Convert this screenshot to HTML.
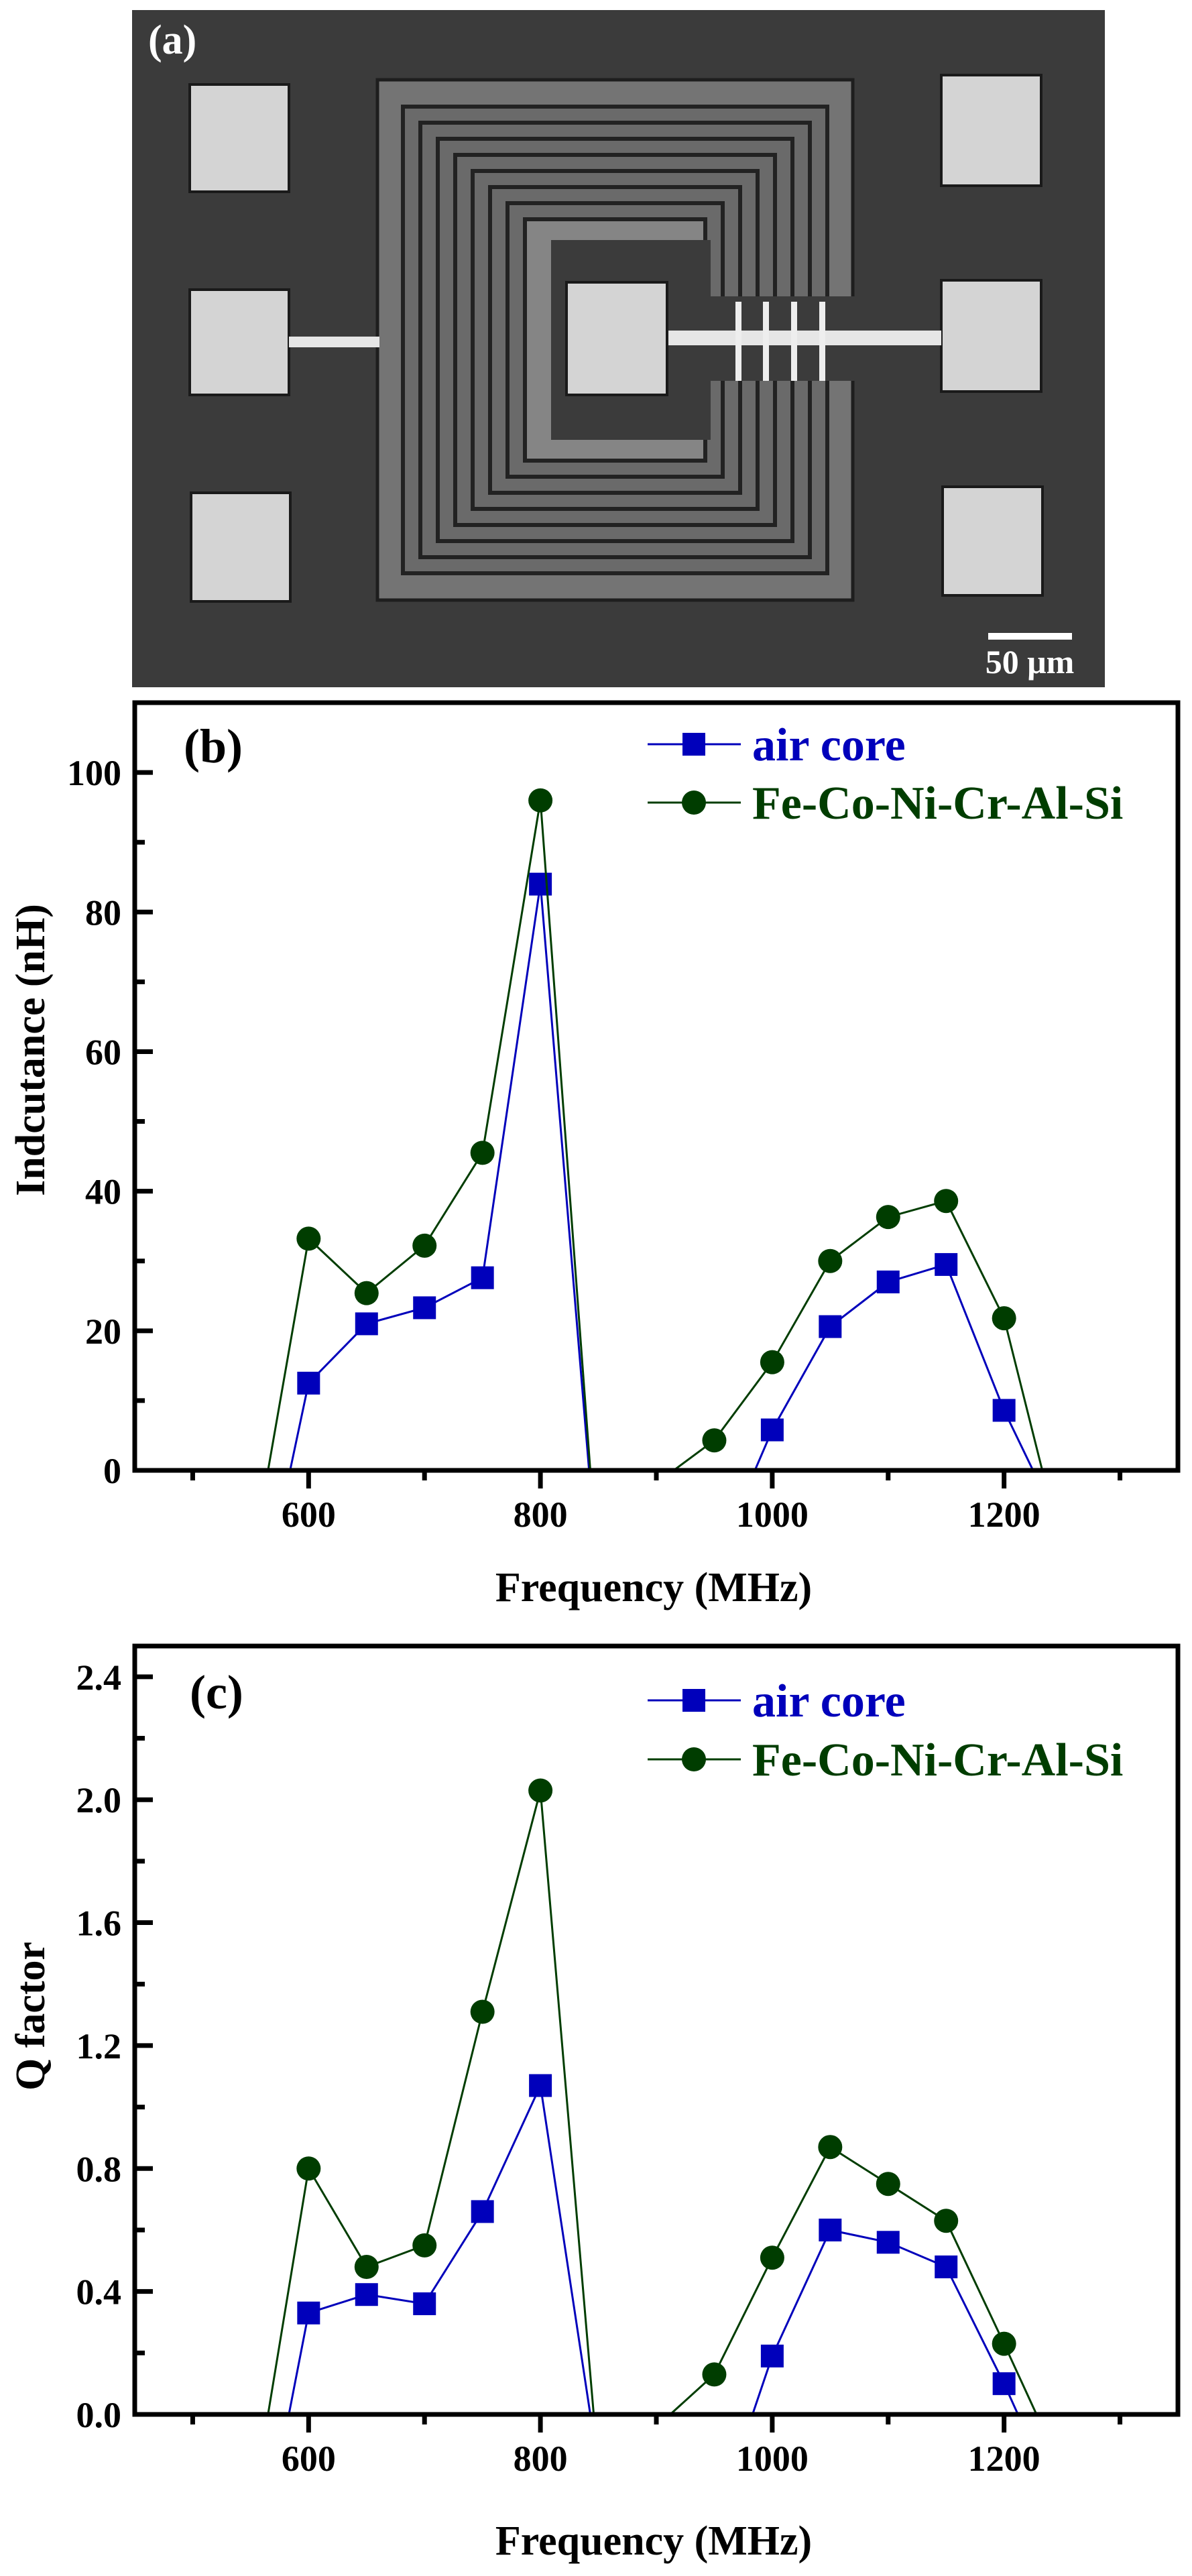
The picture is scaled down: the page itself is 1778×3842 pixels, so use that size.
<!DOCTYPE html>
<html><head><meta charset="utf-8">
<style>
html,body{margin:0;padding:0;background:#fff;}
svg{display:block;}
text{font-family:"Liberation Serif",serif;font-weight:bold;}
</style></head>
<body>
<svg id="fig" width="1778" height="3842" viewBox="0 0 1778 3842" xmlns="http://www.w3.org/2000/svg">
  <g id="photo">
    <rect x="197" y="15" width="1451" height="1010" fill="#3b3b3b"/>
    <g id="spiral"></g>
    <g>
      <rect x="283" y="126" width="148" height="160" fill="#d4d4d4" stroke="#1a1a1a" stroke-width="4"/>
      <rect x="283" y="432" width="148" height="157" fill="#d4d4d4" stroke="#1a1a1a" stroke-width="4"/>
      <rect x="285" y="735" width="148" height="162" fill="#d4d4d4" stroke="#1a1a1a" stroke-width="4"/>
      <rect x="1404" y="112" width="149" height="165" fill="#d4d4d4" stroke="#1a1a1a" stroke-width="4"/>
      <rect x="1404" y="418" width="149" height="166" fill="#d4d4d4" stroke="#1a1a1a" stroke-width="4"/>
      <rect x="1406" y="726" width="149" height="162" fill="#d4d4d4" stroke="#1a1a1a" stroke-width="4"/>
    </g>
    <rect x="431" y="502" width="135" height="16" fill="#e6e6e6"/>
    <rect x="995" y="493" width="409" height="22" fill="#e6e6e6"/>
    <g>
      <rect x="1097" y="450" width="9" height="118" fill="#eeeeee"/>
      <rect x="1138" y="450" width="9" height="118" fill="#eeeeee"/>
      <rect x="1180" y="450" width="9" height="118" fill="#eeeeee"/>
      <rect x="1222" y="450" width="9" height="118" fill="#eeeeee"/>
    </g>
    <rect x="845" y="421" width="150" height="168" fill="#d4d4d4" stroke="#1a1a1a" stroke-width="4"/>
    <text x="221" y="80" font-size="62" fill="#ffffff">(a)</text>
    <rect x="1474" y="944" width="125" height="10" fill="#ffffff"/>
    <text x="1536" y="1004" font-size="50" fill="#ffffff" text-anchor="middle">50 μm</text>
  </g>
  <g id="chartB"></g>
  <g id="chartC"></g>
</svg>
<script>
// ---- Panel (b) data: inductance (nH) ----
const bAirFreq = [584, 600, 650, 700, 750, 800, 842];
const bAirVal  = [0, 12.5, 21, 23.3, 27.6, 84, 0];
const bAirFreq2 = [985, 1000, 1050, 1100, 1150, 1200, 1225];
const bAirVal2  = [0, 5.8, 20.6, 27, 29.5, 8.6, 0];
const bFeFreq = [565, 600, 650, 700, 750, 800, 843];
const bFeVal  = [0, 33.2, 25.4, 32.2, 45.5, 96, 0];
const bFeFreq2 = [915, 950, 1000, 1050, 1100, 1150, 1200, 1233];
const bFeVal2  = [0, 4.3, 15.5, 30, 36.3, 38.6, 21.8, 0];
const bYTicks = [0, 20, 40, 60, 80, 100];
const bYTickLabels = ["0", "20", "40", "60", "80", "100"];
// ---- Panel (c) data: Q factor ----
const cAirFreq = [583, 600, 650, 700, 750, 800, 843];
const cAirVal  = [0, 0.33, 0.39, 0.36, 0.66, 1.07, 0];
const cAirFreq2 = [983, 1000, 1050, 1100, 1150, 1200, 1212];
const cAirVal2  = [0, 0.19, 0.6, 0.56, 0.48, 0.1, 0];
const cFeFreq = [565, 600, 650, 700, 750, 800, 846];
const cFeVal  = [0, 0.8, 0.48, 0.55, 1.31, 2.03, 0];
const cFeFreq2 = [912, 950, 1000, 1050, 1100, 1150, 1200, 1228];
const cFeVal2  = [0, 0.13, 0.51, 0.87, 0.75, 0.63, 0.23, 0];
const cYTicks = [0, 0.4, 0.8, 1.2, 1.6, 2.0, 2.4];
const cYTickLabels = ["0.0", "0.4", "0.8", "1.2", "1.6", "2.0", "2.4"];
// shared x axis
const xTicks = [600, 800, 1000, 1200];
const xTickLabels = ["600", "800", "1000", "1200"];
const xMinor = [500, 700, 900, 1100, 1300];

const NS = "http://www.w3.org/2000/svg";
const BLUE = "#0000bb", GREEN = "#003d00";
function mk(tag, attrs, parent) {
  const e = document.createElementNS(NS, tag);
  for (const k in attrs) e.setAttribute(k, attrs[k]);
  parent.appendChild(e);
  return e;
}

// spiral drawing
(function () {
  const g = document.getElementById("spiral");
  const r0 = mk("rect", {x:563, y:119, width:709, height:776, fill:"#747474", stroke:"#1e1e1e", "stroke-width":5}, g);
  
  
  for (let i = 0; i < 8; i++) {
    const ix = 38 + i * 26, iy = 40 + i * 24;
    const r = mk("rect", {x:563 + ix, y:119 + iy, width:709 - 2 * ix, height:776 - 2 * iy,
      fill: i === 7 ? "#858585" : "#6a6a6a", stroke:"#222", "stroke-width":6}, g);
    
    
  }
  const inner = mk("rect", {x:822, y:358, width:238, height:298, fill:"#3b3b3b"}, g);
  
  
  const gap = mk("rect", {x:1060, y:442, width:215, height:126, fill:"#3b3b3b"}, g);
  
  
})();

function drawChart(gid, cfg) {
  const g = document.getElementById(gid);
  const L = 201, R = 1757, T = cfg.top, B = cfg.bottom;
  const xMin = 450, xMax = 1350;
  const sx = v => L + (v - xMin) / (xMax - xMin) * (R - L);
  const sy = v => B - (v - cfg.yMin) / (cfg.yMax - cfg.yMin) * (B - T);

  const clipId = gid + "-clip";
  const defs = mk("defs", {}, g);
  const cp = mk("clipPath", {id: clipId}, defs);
  mk("rect", {x:L, y:T, width:R - L, height:B - T}, cp);

  // series
  cfg.series.forEach(s => {
    s.parts.forEach(p => {
      const pts = p.f.map((f, i) => sx(f).toFixed(1) + "," + sy(p.v[i]).toFixed(1)).join(" ");
      const pl = mk("polyline", {points: pts, fill:"none", stroke:s.color, "stroke-width":3, "clip-path":"url(#" + clipId + ")"}, g);
      
      
      p.f.forEach((f, i) => {
        if (p.v[i] === 0) return;
        const cx = sx(f), cy = sy(p.v[i]);
        let m;
        if (s.shape === "square") m = mk("rect", {x:cx - 17, y:cy - 17, width:34, height:34, fill:s.color}, g);
        else m = mk("circle", {cx:cx, cy:cy, r:18, fill:s.color}, g);
        
        
      });
    });
  });

  // frame
  const fr = mk("rect", {x:L, y:T, width:R - L, height:B - T, fill:"none", stroke:"#000", "stroke-width":7}, g);
  
  

  // y ticks (inward)
  cfg.yTicks.forEach((v, i) => {
    const y = sy(v);
    const t = mk("line", {x1:L, x2:L + 27, y1:y, y2:y, stroke:"#000", "stroke-width":7}, g);
    
    
    const lb = mk("text", {x:L - 20, y:y + 19, "font-size":54, "text-anchor":"end", fill:"#000"}, g);
    lb.textContent = cfg.yLabels[i];
    
    
    if (i < cfg.yTicks.length - 1) {
      const ym = sy(v + (cfg.yTicks[1] - cfg.yTicks[0]) / 2);
      const mt = mk("line", {x1:L, x2:L + 15, y1:ym, y2:ym, stroke:"#000", "stroke-width":7}, g);
      
      
    }
  });
  // x ticks (outward)
  xTicks.forEach((v, i) => {
    const x = sx(v);
    const t = mk("line", {x1:x, x2:x, y1:B, y2:B + 27, stroke:"#000", "stroke-width":7}, g);
    
    
    const lb = mk("text", {x:x, y:B + 84, "font-size":54, "text-anchor":"middle", fill:"#000"}, g);
    lb.textContent = xTickLabels[i];
    
    
  });
  xMinor.forEach(v => {
    const x = sx(v);
    const t = mk("line", {x1:x, x2:x, y1:B, y2:B + 15, stroke:"#000", "stroke-width":7}, g);
    
    
  });

  // axis titles
  const xt = mk("text", {x:975, y:cfg.xTitleY, "font-size":62, "text-anchor":"middle", fill:"#000"}, g);
  xt.textContent = "Frequency (MHz)";
  
  
  const yt = mk("text", {x:0, y:0, "font-size":62, "text-anchor":"middle", fill:"#000",
    transform:"translate(66," + cfg.yTitleY + ") rotate(-90)"}, g);
  yt.textContent = cfg.yTitle;
  
  

  // panel label
  const pl = mk("text", {x:cfg.labelX, y:cfg.labelY, "font-size":72, fill:"#000"}, g);
  pl.textContent = cfg.label;
  
  

  // legend
  cfg.series.forEach((s, i) => {
    const y = cfg.legendY[i];
    const ll = mk("line", {x1:966, x2:1105, y1:y, y2:y, stroke:s.color, "stroke-width":3}, g);
    
    
    let m;
    if (s.shape === "square") m = mk("rect", {x:1018, y:y - 17, width:34, height:34, fill:s.color}, g);
    else m = mk("circle", {cx:1035, cy:y, r:18, fill:s.color}, g);
    
    
    const tx = mk("text", {x:1122, y:y + 24, "font-size":70, fill:s.color}, g);
    tx.textContent = s.label;
    
    
  });
}

drawChart("chartB", {
  top:1048, bottom:2193, yMin:0, yMax:110,
  yTicks:bYTicks, yLabels:bYTickLabels,
  yTitle:"Indcutance (nH)", yTitleY:1566, xTitleY:2388,
  label:"(b)", labelX:274, labelY:1137, legendY:[1110, 1197],
  series:[
    {name:"air-core", label:"air core", color:BLUE, shape:"square",
      parts:[{f:bAirFreq, v:bAirVal}, {f:bAirFreq2, v:bAirVal2}]},
    {name:"fe-co-ni-cr-al-si", label:"Fe-Co-Ni-Cr-Al-Si", color:GREEN, shape:"circle",
      parts:[{f:bFeFreq, v:bFeVal}, {f:bFeFreq2, v:bFeVal2}]}
  ]
});
drawChart("chartC", {
  top:2455, bottom:3601, yMin:0, yMax:2.5,
  yTicks:cYTicks, yLabels:cYTickLabels,
  yTitle:"Q factor", yTitleY:3007, xTitleY:3810,
  label:"(c)", labelX:283, labelY:2548, legendY:[2536, 2624],
  series:[
    {name:"air-core", label:"air core", color:BLUE, shape:"square",
      parts:[{f:cAirFreq, v:cAirVal}, {f:cAirFreq2, v:cAirVal2}]},
    {name:"fe-co-ni-cr-al-si", label:"Fe-Co-Ni-Cr-Al-Si", color:GREEN, shape:"circle",
      parts:[{f:cFeFreq, v:cFeVal}, {f:cFeFreq2, v:cFeVal2}]}
  ]
});
</script>
</body></html>
